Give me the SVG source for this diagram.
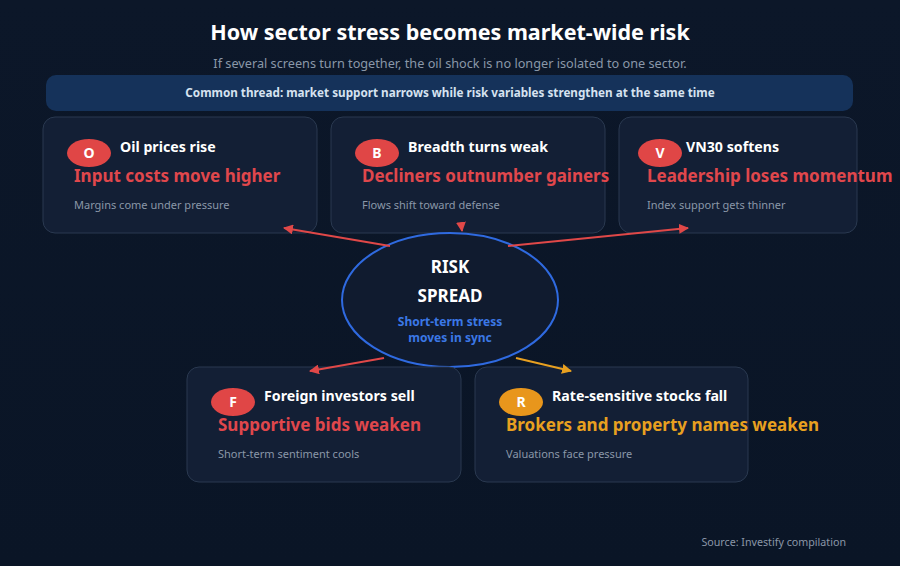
<svg xmlns="http://www.w3.org/2000/svg" width="900" height="566" viewBox="0 0 900 566">
<defs>
<style>
text{font-family:"Noto Sans","Open Sans","DejaVu Sans",sans-serif}
.card{fill:#131f35;stroke:#2a3950;stroke-width:1}
.badge{fill:#e04646}
.badgeO{fill:#e8961c}
.bl{fill:#ffffff;font-size:14px;font-weight:700;text-anchor:middle}
.ttl{fill:#ffffff;font-size:14.2px;font-weight:700}
.red{fill:#e0474c;font-size:17px;font-weight:700}
.org{fill:#e8a020;font-size:17px;font-weight:700}
.sub{fill:#8a97a8;font-size:11px}
.ar{stroke:#e04848;stroke-width:2;fill:none}
.ao{stroke:#e8a020;stroke-width:2;fill:none}
</style>
<marker id="mr" viewBox="0 0 10 10" refX="9" refY="5" markerWidth="10" markerHeight="10" markerUnits="userSpaceOnUse" orient="auto"><path d="M0,0 L10,5 L0,10 Z" fill="#e04848"/></marker>
<marker id="mo" viewBox="0 0 10 10" refX="9" refY="5" markerWidth="10" markerHeight="10" markerUnits="userSpaceOnUse" orient="auto"><path d="M0,0 L10,5 L0,10 Z" fill="#e8a020"/></marker>
<linearGradient id="bg" x1="0" y1="0" x2="0" y2="1"><stop offset="0" stop-color="#0c1729"/><stop offset="1" stop-color="#0a1526"/></linearGradient>
</defs>
<rect width="900" height="566" fill="url(#bg)"/>
<text x="450" y="40" text-anchor="middle" fill="#ffffff" font-size="21.5" font-weight="700">How sector stress becomes market-wide risk</text>
<text x="450" y="68" text-anchor="middle" fill="#8a97a8" font-size="12.7">If several screens turn together, the oil shock is no longer isolated to one sector.</text>
<g id="banner">
<rect x="46" y="75" width="807" height="36" rx="10" fill="#15325a"/>
<text x="450" y="97" text-anchor="middle" fill="#d6e2f0" font-size="11.7" font-weight="700">Common thread: market support narrows while risk variables strengthen at the same time</text>
</g>
<g id="node-oil">
<rect class="card" x="43" y="117" width="274" height="116" rx="12"/>
<ellipse class="badge" cx="89" cy="153" rx="22" ry="14"/>
<text class="bl" x="89" y="158">O</text>
<text class="ttl" x="120" y="152">Oil prices rise</text>
<text class="red" x="74" y="182">Input costs move higher</text>
<text class="sub" x="74" y="209">Margins come under pressure</text>
</g>
<g id="node-breadth">
<rect class="card" x="331" y="117" width="274" height="116" rx="12"/>
<ellipse class="badge" cx="377" cy="153" rx="22" ry="14"/>
<text class="bl" x="377" y="158">B</text>
<text class="ttl" x="408" y="152">Breadth turns weak</text>
<text class="red" x="362" y="182">Decliners outnumber gainers</text>
<text class="sub" x="362" y="209">Flows shift toward defense</text>
</g>
<g id="node-vn30">
<rect class="card" x="619" y="117" width="238" height="116" rx="12"/>
<ellipse class="badge" cx="660" cy="153" rx="22" ry="14"/>
<text class="bl" x="660" y="158">V</text>
<text class="ttl" x="686" y="152">VN30 softens</text>
<text class="red" x="647" y="182">Leadership loses momentum</text>
<text class="sub" x="647" y="209">Index support gets thinner</text>
</g>
<g id="node-risk">
<ellipse cx="450" cy="300" rx="108" ry="67" fill="#101b2f" stroke="#2f6ae0" stroke-width="2"/>
<text x="450" y="273" text-anchor="middle" fill="#ffffff" font-size="17" font-weight="700">RISK</text>
<text x="450" y="302" text-anchor="middle" fill="#ffffff" font-size="17" font-weight="700">SPREAD</text>
<text x="450" y="326" text-anchor="middle" fill="#3b78e6" font-size="12" font-weight="700">Short-term stress</text>
<text x="450" y="342" text-anchor="middle" fill="#3b78e6" font-size="12" font-weight="700">moves in sync</text>
</g>
<g id="node-foreign">
<rect class="card" x="187" y="367" width="274" height="115" rx="12"/>
<ellipse class="badge" cx="233" cy="402" rx="22" ry="14"/>
<text class="bl" x="233" y="407">F</text>
<text class="ttl" x="264" y="401">Foreign investors sell</text>
<text class="red" x="218" y="431">Supportive bids weaken</text>
<text class="sub" x="218" y="458">Short-term sentiment cools</text>
</g>
<g id="node-rate">
<rect class="card" x="475" y="367" width="273" height="115" rx="12"/>
<ellipse class="badgeO" cx="521" cy="402" rx="22" ry="14"/>
<text class="bl" x="521" y="407">R</text>
<text class="ttl" x="552" y="401">Rate-sensitive stocks fall</text>
<text class="org" x="506" y="431">Brokers and property names weaken</text>
<text class="sub" x="506" y="458">Valuations face pressure</text>
</g>
<g id="connectors">
<path class="ar" d="M390,246 L284,228" marker-end="url(#mr)"/>
<path class="ar" d="M461,223 L462,231" marker-end="url(#mr)"/>
<path class="ar" d="M508,246 L688,228" marker-end="url(#mr)"/>
<path class="ar" d="M384,358 L310,371" marker-end="url(#mr)"/>
<path class="ao" d="M516,358 L571,371" marker-end="url(#mo)"/>
</g>
<text x="846" y="546" text-anchor="end" fill="#8a97a8" font-size="10.7">Source: Investify compilation</text>
</svg>
